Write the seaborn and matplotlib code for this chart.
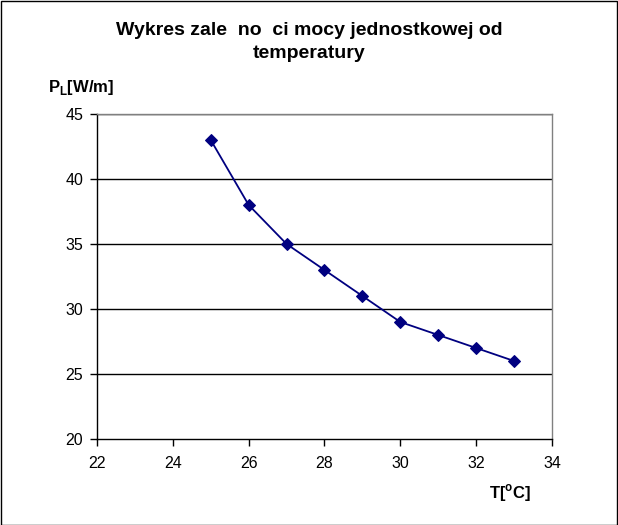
import matplotlib
matplotlib.use("Agg")
import matplotlib.pyplot as plt
import seaborn as sns
import pandas as pd
from matplotlib.patches import Rectangle

temperature = [25, 26, 27, 28, 29, 30, 31, 32, 33]
power = [43, 38, 35, 33, 31, 29, 28, 27, 26]
title = "Wykres zale  no  ci mocy jednostkowej od\ntemperatury"
x_ticks = [22, 24, 26, 28, 30, 32, 34]
y_ticks = [20, 25, 30, 35, 40, 45]

sns.set_theme(style="white")
plt.rcParams['font.family'] = ['Liberation Sans', 'DejaVu Sans']
plt.rcParams['text.color'] = 'black'

df = pd.DataFrame({"T": temperature, "P": power})

fig = plt.figure(figsize=(6.18, 5.25), dpi=100)
ax = fig.add_axes([97/618, 1-439/525, (552-97)/618, (439-114)/525])

for y in y_ticks[1:]:
    ax.axhline(y, color="black", lw=1.0, zorder=1)

sns.lineplot(data=df, x="T", y="P", ax=ax, color="#000080", marker="D",
             markersize=6, markeredgecolor="#000080", linewidth=1.3, zorder=3)

ax.set_xlim(22, 34)
ax.set_ylim(20, 45)
ax.set_xticks(x_ticks)
ax.set_yticks(y_ticks)
ax.tick_params(axis="both", direction="out", length=5, width=1, color="black",
               labelsize=11.5, labelcolor="black", pad=5, bottom=True, left=True)
ax.tick_params(axis="x", pad=7)
ax.set_xlabel("")
ax.set_ylabel("")
for s in ["left", "bottom"]:
    ax.spines[s].set_color("black")
    ax.spines[s].set_linewidth(1.0)
for s in ["top", "right"]:
    ax.spines[s].set_color("#808080")
    ax.spines[s].set_linewidth(1.0)

fig.text(0.5, 1-42/525, title, ha="center", va="center", fontsize=14,
         fontweight="bold", linespacing=1.45, color="black")
fig.text(48/618, 1-88/525, r"P$_\mathregular{L}$[W/m]", ha="left", va="center",
         fontsize=12, fontweight="bold", color="black")
fig.text(489/618, 1-493/525, r"T[$^\mathregular{o}$C]", ha="left", va="center",
         fontsize=12, fontweight="bold", color="black")

fig.patches.append(Rectangle((0.5/618, 0.5/525), 1-1.5/618, 1-1.5/525,
                             transform=fig.transFigure, fill=False,
                             edgecolor="black", linewidth=1.0))

fig.savefig("out.png", dpi=100)
